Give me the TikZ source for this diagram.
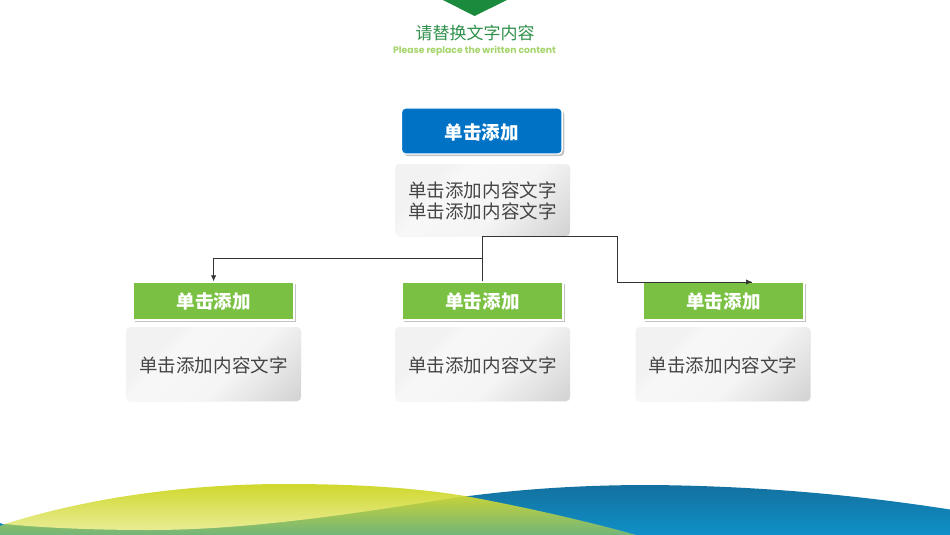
\documentclass[tikz,border=0pt]{standalone}
\usepackage{fontspec}
\usepackage{xcolor}
\usepackage{tikz}
\usetikzlibrary{arrows.meta,shadows}
\newfontfamily\cjk{Noto Sans CJK SC}
\setsansfont{Poppins}
\definecolor{topgreen}{HTML}{1A8A3C}
\definecolor{titlegreen}{HTML}{2E8F4A}
\definecolor{subgreen}{HTML}{A6D46C}
\definecolor{headblue}{HTML}{0072C6}
\definecolor{leafgreen}{HTML}{7AC143}
\definecolor{bodytext}{HTML}{444444}
\definecolor{seablue}{HTML}{0F90C8}
\definecolor{seadark}{HTML}{14719F}
\definecolor{lensyellow}{HTML}{D0D82C}
\definecolor{lenslight}{HTML}{E8EC94}
\definecolor{meadow}{HTML}{70B47C}
\definecolor{meadowtop}{HTML}{C4D23A}
\pgfdeclarehorizontalshading{bodyshade}{100bp}{
  color(0bp)=(black!5); color(30bp)=(black!5); color(36bp)=(black!3);
  color(58bp)=(black!4); color(86bp)=(black!18); color(100bp)=(black!18)}
\tikzset{
  head/.style={fill=headblue, draw=white, line width=1pt, rounded corners=3pt,
    minimum width=120.5pt, minimum height=34.5pt, text=white, text height=14pt, text depth=1.2pt,
    font=\cjk\bfseries\fontsize{13.9}{16}\selectfont,
    drop shadow={shadow xshift=1.6pt, shadow yshift=-1.6pt, fill=black!40, opacity=0.6}},
  leaf/.style={fill=leafgreen, draw=white, line width=1pt,
    minimum width=120.5pt, minimum height=28.5pt, text=white, font=\cjk\bfseries\fontsize{13.9}{16}\selectfont,
    drop shadow={shadow xshift=1.6pt, shadow yshift=-1.6pt, fill=black!40, opacity=0.6}},
  bodybox/.style={shading=bodyshade, shading angle=-45, rounded corners=3pt,
    minimum width=131pt, text=bodytext, align=center, font=\cjk\fontsize{13.9}{15.75}\selectfont,
    drop shadow={shadow xshift=0.4pt, shadow yshift=-0.4pt, fill=black!20, opacity=0.3}},
  link/.style={draw=black!80, line width=0.55pt},
  tip/.style={-{Latex[length=4.5pt,width=4pt]}},
}

\begin{document}
\begin{tikzpicture}[x=0.75pt,y=-0.75pt]
  \useasboundingbox (0,0) rectangle (950,535);
  % hills at the foot of the page
  \begin{scope}
    \clip (0,0) rectangle (950,535);
    \shade[top color=seadark, bottom color=seablue]
      (0,523) -- (8,526) -- (460,500) -- (465,496.5) .. controls (530,488) and (590,485) .. (650,485)
      .. controls (770,486) and (870,497) .. (950,509.5) -- (950,535) -- (0,535) -- cycle;
    \shade[top color=meadowtop, bottom color=meadow]
      (5,524) -- (465,496) .. controls (530,508) and (590,522) .. (640,536) -- (0,536) -- (0,526) -- cycle;
    \shade[top color=lensyellow, bottom color=lenslight]
      (5,524) .. controls (90,497) and (190,484) .. (285,484)
      .. controls (350,484) and (410,487) .. (465,496)
      .. controls (360,513) and (250,530) .. (150,530)
      .. controls (95,530) and (45,528) .. (5,524) -- cycle;
  \end{scope}
  % heading
  \fill[topgreen] (443,0) -- (507,0) -- (474.5,16) -- cycle;
  \node[text=titlegreen, font=\cjk\fontsize{12.75}{15}\selectfont] (title) at (475,33) {请替换文字内容};
  \node[text=subgreen, font=\sffamily\bfseries\fontsize{6.95}{8}\selectfont] (subtitle) at (474.5,51.5) {Please replace the written content};
  % top of the tree
  \node[head] (root) at (481.8,131) {单击添加};
  \node[bodybox, minimum height=54pt, text height=30pt, text depth=1.7pt] (rootbody) at (482.5,200) {单击添加内容文字\\单击添加内容文字};
  % three leaves
  \node[leaf] (leafa) at (213.6,301) {单击添加};
  \node[leaf] (leafb) at (482.5,301) {单击添加};
  \node[leaf] (leafc) at (723.5,301) {单击添加};
  \node[bodybox, minimum height=55.5pt, text height=14pt, text depth=1.2pt] (bodya) at (213.5,364) {单击添加内容文字};
  \node[bodybox, minimum height=55.5pt, text height=14pt, text depth=1.2pt] (bodyb) at (482.5,364) {单击添加内容文字};
  \node[bodybox, minimum height=55.5pt, text height=14pt, text depth=1.2pt] (bodyc) at (723,364) {单击添加内容文字};
  % connectors
  \coordinate (split) at (482.5,258.7);
  \coordinate (tipc) at (752,282);
  \draw[link] (leafb.north) -- (482.5,236) -- (617,236) -- (617,282) -- (tipc);
  \draw[link, tip] (tipc) ++(-12,0) -- (tipc);
  \draw[link, tip] (split) -- (213.6,258.7) -- (leafa.north);
\end{tikzpicture}
\end{document}
